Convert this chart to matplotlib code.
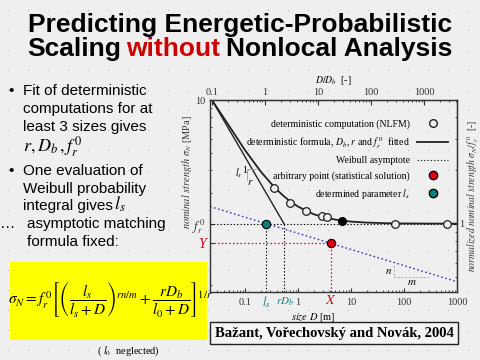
import numpy as np
import matplotlib.pyplot as plt
from matplotlib.patches import Rectangle
from matplotlib.lines import Line2D
from matplotlib.ticker import NullFormatter
from matplotlib.transforms import blended_transform_factory

plt.rcParams['mathtext.fontset'] = 'stix'
plt.rcParams['font.family'] = ['Liberation Serif', 'DejaVu Serif']

W, H = 480, 360
def px(x, y):
    return x / W, 1 - y / H

# values
f_r0 = 2.0        # MPa
D_b = 0.238       # m
l_s = 0.249       # m
r_Db = 0.545      # m
X_D, Y_s = 4.2, 1.547

nlfm_D = [0.357, 0.707, 1.42, 2.80, 3.48, 67.6, 640]
nlfm_s = [3.17, 2.61, 2.37, 2.21, 2.19, 1.99, 1.99]
black_D = [6.85]
black_s = [2.08]
formula_D = [0.0238, 0.05, 0.1, 0.2, 0.357, 0.5, 0.7, 1.0, 1.5, 2.0, 3.0, 5.0, 7.0,
             10, 20, 50, 100, 300, 1000]
formula_s = [10.0, 7.15, 5.21, 3.93, 3.22, 2.92, 2.68, 2.50, 2.35, 2.26, 2.18, 2.11, 2.08,
             2.055, 2.028, 2.011, 2.006, 2.002, 2.001]
small_D = [0.0238, r_Db]
small_s = [10.0, f_r0]
weibull_D = [0.0219, 1000]
weibull_s = [2.50, 0.94]

xlim = (0.0219, 1000)
ylim = (0.822, 10)
xticks = [0.1, 1, 10, 100, 1000]
xticklabels = ['0.1', '1', '10', '100', '1000']

teal = '#0d7f7f'
red = '#e00010'
blue = '#3838a8'

fig = plt.figure(figsize=(4.8, 3.6), dpi=100, facecolor='#efefef')

# slide background dot grid
bg = fig.add_axes([0, 0, 1, 1], zorder=-5)
bg.set_xlim(0, W)
bg.set_ylim(H, 0)
bg.axis('off')
gx, gy = np.meshgrid(np.arange(8, W, 20), np.arange(10, H, 20))
bg.scatter(gx.ravel(), gy.ravel(), s=0.5, color='#b0b0b0', linewidths=0)

# title
tfont = dict(family='Liberation Sans', weight='bold', fontsize=19)
fig.text(*px(240, 32), 'Predicting Energetic-Probabilistic', ha='center', va='baseline', **tfont)
t1 = fig.text(*px(27, 56), 'Scaling', ha='left', va='baseline', **tfont)
t2 = fig.text(0, 0, 'without', color='#cc0000', va='baseline', **tfont)
t3 = fig.text(0, 0, 'Nonlocal Analysis', va='baseline', **tfont)

# bullet text
bfont = dict(family='Liberation Sans', fontsize=11)
lines = [
    (8, 95, '\u2022'), (23, 95, 'Fit of deterministic'),
    (23, 113, 'computations for at'), (23, 131, 'least 3 sizes gives'),
    (8, 175, '\u2022'), (23, 175, 'One evaluation of'),
    (23, 193, 'Weibull probability'), (23, 210, 'integral gives'),
    (0, 228, '\u2026'), (27, 228, 'asymptotic matching'), (27, 246, 'formula fixed:'),
]
for x, y, s in lines:
    fig.text(*px(x, y), s, ha='left', va='baseline', **bfont)
fig.text(*px(23, 152), r'$r, D_b\,, f_r^{\,0}$', ha='left', va='baseline', fontsize=13)
fig.text(*px(114, 210), r'$l_s$', ha='left', va='baseline', fontsize=13)

# yellow formula box
fig.add_artist(Rectangle(px(10, 340), 197 / W, 78 / H, transform=fig.transFigure,
                         facecolor='#ffff00', edgecolor='none', zorder=1))
fig.text(*px(110, 300),
         r'$\sigma_N = f_r^{\,0}\left[\left(\dfrac{l_s}{l_s+D}\right)^{rn/m}'
         r'+\dfrac{rD_b}{l_0+D}\right]^{1/r}$',
         ha='center', va='center', fontsize=11, zorder=2)
fig.text(*px(128, 351), r'( $l_0$  neglected)', ha='center', va='center', fontsize=7.5)

# chart
ax = fig.add_axes([210 / W, 1 - 292 / H, 247 / W, 192 / H])
ax.set_facecolor('none')
ax.set_xscale('log')
ax.set_yscale('log')
ax.set_xlim(*xlim)
ax.set_ylim(*ylim)

dot = (0, (1.2, 1.8))
ax.plot(xlim, [f_r0, f_r0], color='k', ls=dot, lw=0.8)
ax.plot([l_s, l_s], [ylim[0], f_r0], color='k', ls=dot, lw=0.8)
ax.plot([r_Db, r_Db], [ylim[0], f_r0], color='k', ls=dot, lw=0.8)
ax.plot([xlim[0], X_D], [Y_s, Y_s], color=red, ls=dot, lw=0.9)
ax.plot([X_D, X_D], [ylim[0], Y_s], color=red, ls=dot, lw=0.9)
ax.plot(weibull_D, weibull_s, color=blue, ls=dot, lw=1.0)
ax.plot(small_D, small_s, color='#222222', lw=1.0)
ax.plot(formula_D, formula_s, color='#222222', lw=1.3)
ax.plot(nlfm_D, nlfm_s, 'o', mfc='#efefef', mec='#222222', ms=5.5, mew=0.9)
ax.plot(black_D, black_s, 'o', mfc='k', mec='k', ms=5.5)
ax.plot([l_s], [f_r0], 'o', mfc=teal, mec='k', ms=6, mew=0.8)
ax.plot([X_D], [Y_s], 'o', mfc=red, mec='k', ms=6, mew=0.8)

# slope marks
ax.text(0.076, 3.85, r'$l_s$', fontsize=7, ha='center', va='center')
ax.text(0.098, 4.0, '1', fontsize=7, ha='center', va='center')
ax.text(0.128, 3.4, r'$r$', fontsize=8, ha='center', va='center')
ax.plot([0.108, 0.108, 0.16], [3.55, 4.05, 4.05], color='#999999', lw=0.6)
ax.plot([65, 65, 290], [1.17, 1.0, 1.0], color='#aaaaaa', lw=0.6, ls=(0, (3, 1.5)))
ax.text(52, 1.07, r'$n$', fontsize=8, ha='center', va='center')
ax.text(140, 0.93, r'$m$', fontsize=8, ha='center', va='center')

for side in ['top', 'bottom', 'left', 'right']:
    ax.spines[side].set_linewidth(1.0)
    ax.spines[side].set_color('#333333')
ax.tick_params(which='both', direction='in', labelsize=7.5, colors='#333333')
ax.tick_params(which='major', length=3)
ax.tick_params(which='minor', length=1.5)
ax.set_xticks(xticks)
ax.set_xticklabels(xticklabels)
ax.xaxis.set_minor_formatter(NullFormatter())
ax.yaxis.set_minor_formatter(NullFormatter())
ax.set_yticks([Y_s, f_r0, 10])
ax.set_yticklabels(['Y', r'$f_r^{\,0}$', '10'])
ylabs = ax.get_yticklabels()
ylabs[0].set_color(red)
ylabs[0].set_fontsize(10)
ylabs[0].set_fontstyle('italic')
ylabs[1].set_fontsize(9)
ax.tick_params(axis='y', pad=3)
ax.tick_params(axis='x', pad=4)

trans = blended_transform_factory(ax.transData, ax.transAxes)
ax.text(l_s, -0.05, r'$l_s$', color=teal, fontsize=9, ha='center', va='center', transform=trans)
ax.text(r_Db * 1.06, -0.05, r'$rD_b$', color=teal, fontsize=8, ha='center', va='center', transform=trans)
ax.text(X_D, -0.045, r'$X$', color=red, fontsize=10, ha='center', va='center', transform=trans)

ax.set_xlabel(r'$size\ D$ [m]', fontsize=7.5)
ax.xaxis.set_label_coords((313 - 210) / 247, -0.1)
fig.text(*px(187, 172), r'$nominal\ strength\ \sigma_N$ [MPa]', rotation=90,
         ha='center', va='center', fontsize=7.5, color='#333333')

secx = ax.secondary_xaxis('top', functions=(lambda d: d / D_b, lambda t: t * D_b))
secx.set_xticks(xticks)
secx.set_xticklabels(xticklabels)
secx.xaxis.set_minor_formatter(NullFormatter())
secx.tick_params(which='both', direction='in', labelsize=7.5, pad=2, colors='#333333')
secx.tick_params(which='minor', length=1.5)
secx.set_xlabel(r'$D/D_b$  [-]', fontsize=7, labelpad=4)

secy = ax.secondary_yaxis('right', functions=(lambda s: s / f_r0, lambda n: n * f_r0))
secy.set_yticks([1])
secy.set_yticklabels(['1'])
secy.yaxis.set_minor_formatter(NullFormatter())
secy.tick_params(which='both', direction='in', labelsize=7.5, pad=1.5, colors='#333333')
secy.tick_params(which='minor', length=1.5)
fig.text(*px(473.5, 196), r'$normalized\ nominal\ strength\ \sigma_N/f_r^{\,0}$  [-]', rotation=90,
         ha='center', va='center', fontsize=7, color='#333333')

handles = [
    Line2D([], [], ls='none', marker='o', mfc='none', mec='#222222', ms=5.5),
    Line2D([], [], color='#222222', lw=1.3),
    Line2D([], [], color='#222222', lw=0.8, ls=dot),
    Line2D([], [], ls='none', marker='o', mfc=red, mec='k', ms=6),
    Line2D([], [], ls='none', marker='o', mfc=teal, mec='k', ms=6),
]
labels = [
    'deterministic computation (NLFM)',
    r'deterministic formula, $D_b$, $r$ and $f_r^{\,0}$  fitted',
    'Weibull asymptote',
    'arbitrary point (statistical solution)',
    r'determined parameter $l_s$',
]
ax.legend(handles, labels, loc='upper right', bbox_to_anchor=(0.985, 0.925), frameon=False,
          markerfirst=False, fontsize=7, handlelength=3.2, labelspacing=0.6,
          handletextpad=0.8, borderpad=0)

# citation box
fig.text(*px(334, 333), 'Ba\u017eant, Vo\u0159echovsk\u00fd and Nov\u00e1k, 2004', ha='center', va='center',
         fontsize=10.5, weight='bold',
         bbox=dict(boxstyle='square,pad=0.3', facecolor='#f4f4f4', edgecolor='#222222', lw=1))

# place the coloured word of the title
fig.canvas.draw()
r = fig.canvas.get_renderer()
bb = t1.get_window_extent(r)
t2.set_position(((bb.x1 + 5.5) / W, t1.get_position()[1]))
bb = t2.get_window_extent(r)
t3.set_position(((bb.x1 + 5.5) / W, t1.get_position()[1]))

fig.savefig('out.png', dpi=100, facecolor=fig.get_facecolor())
